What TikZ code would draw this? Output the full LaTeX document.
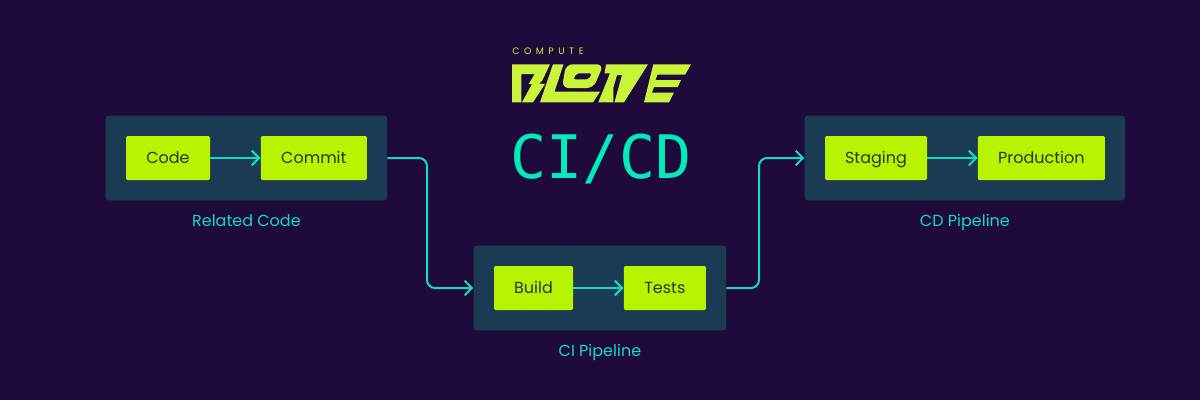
\documentclass[tikz,border=0pt]{standalone}
\usepackage{fontspec}
\setmainfont{Poppins}
\setmonofont{DejaVu Sans Mono}
\usetikzlibrary{chains,positioning,arrows.meta,fit}
\pgfdeclarelayer{back}
\pgfsetlayers{back,main}
\definecolor{nightbg}{HTML}{1F0A3C}
\definecolor{panelfill}{HTML}{1B3B55}
\definecolor{limefill}{HTML}{B8F400}
\definecolor{logolime}{HTML}{C8F53A}
\definecolor{tealline}{HTML}{14DCC0}
\definecolor{tealtext}{HTML}{00EBBE}
\definecolor{darktext}{HTML}{1F3A26}

\begin{document}
\begin{tikzpicture}
  [ x=0.75pt, y=-0.75pt,
    node distance=50.3*0.75pt,
    every join/.style={dou}]
  \tikzset{
    base/.style={
      on chain,
      inner sep=0pt,
      minimum height=44*0.75pt,
    },
    stage/.style={
      base,
      rectangle, rounded corners=1pt,
      fill=limefill,
      text=darktext,
      text height=10pt, text depth=1.5pt,
      font=\fontsize{12pt}{14pt}\selectfont,
    },
    panel/.style={
      rectangle, rounded corners=2pt,
      fill=panelfill,
      inner xsep=20*0.75pt, inner ysep=20*0.75pt,
    },
    caption/.style={
      anchor=north,
      text=tealline,
      font=\fontsize{12pt}{14pt}\selectfont,
    },
    dou/.style={-{Straight Barb[length=5.5pt,width=11pt]}, draw=tealline, line width=1.5pt},
    link/.style={dou, rounded corners=6pt},
    logo/.style={fill=logolime, even odd rule},
  }

  \begin{pgfonlayer}{back}
    \fill[nightbg] (0,0) rectangle (1200,400);
  \end{pgfonlayer}
  \useasboundingbox (0,0) rectangle (1200,400);

  \begin{scope}[start chain=going right]
    \node[stage, minimum width=84*0.75pt, at={(168,158)}] (code) {Code};
    \node[stage, minimum width=106*0.75pt, join] (commit) {Commit};
  \end{scope}

  \begin{scope}[start chain=going right]
    \node[stage, minimum width=79*0.75pt, at={(533.5,288)}] (build) {Build};
    \node[stage, minimum width=82*0.75pt, join] (tests) {Tests};
  \end{scope}

  \begin{scope}[start chain=going right]
    \node[stage, minimum width=102*0.75pt, at={(876,158)}] (staging) {Staging};
    \node[stage, minimum width=127*0.75pt, join] (production) {Production};
  \end{scope}

  % panels go behind the stages
  \begin{pgfonlayer}{back}
    \node[panel, fit=(code)(commit)] (related) {};
    \node[panel, fit=(build)(tests)] (ci) {};
    \node[panel, fit=(staging)(production)] (cd) {};
  \end{pgfonlayer}

  \node[caption, below=9*0.75pt of related] (relatedlabel) {Related Code};
  \node[caption, below=9*0.75pt of ci] (cilabel) {CI Pipeline};
  \node[caption, below=9*0.75pt of cd] (cdlabel) {CD Pipeline};

  \coordinate (midleft) at (427,220);
  \coordinate (midright) at (759,220);
  \draw[link] (related.east) -| (midleft) |- (ci.west);
  \draw[link] (ci.east) -| (midright) |- (cd.west);

  \node[text=tealtext, font=\fontsize{45pt}{50pt}\ttfamily] (title) at (601,159) {CI/CD};
  \node[text=logolime, inner sep=0pt, font=\fontsize{7pt}{8pt}\selectfont, anchor=west] (compute) at (512,51)
    {C\hspace{3.4pt}O\hspace{3.4pt}M\hspace{3.4pt}P\hspace{3.4pt}U\hspace{3.4pt}T\hspace{3.4pt}E};

  % logo letters
  \fill[logo] (512,64.3) -- (550,64.3) -- (542,81) -- (539,83.5) -- (545,84) -- (533,102.3) -- (512,102.3) -- cycle
    (521.3,74) -- (534.7,74) -- (528.7,84) -- (532,84) -- (522,102.3) -- (521.3,102.3) -- cycle;
  \fill[logo] (553,64.3) -- (563.5,64.3) -- (554.5,91.7) -- (600,91.7) -- (593,102.3) -- (540,102.3) -- cycle;
  \fill[logo, rounded corners=5pt] (566,64.3) -- (603.5,64.3) -- (593.5,88) -- (562,88) -- cycle
    [rounded corners=1.5pt] (576.7,73.3) -- (591.7,73.3) -- (589,79.3) -- (573.3,79.3) -- cycle;
  \fill[logo] (606,64.3) -- (648,64.3) -- (624,102.3) -- (598.3,102.3) -- (610,73.3) -- (604.5,73.3) -- cycle
    (613.3,102.3) -- (613.3,88) -- (617,75) -- (622,75) -- (614.5,102.3) -- cycle;
  \fill[logo] (653.3,64.3) -- (691,64.3) -- (685.3,74.5) -- (657.5,74.5) -- (655.5,80) -- (681,80) -- (677.7,87)
    -- (654,87) -- (652,92.5) -- (674,92.5) -- (669,102.3) -- (644,102.3) -- cycle;
\end{tikzpicture}
\end{document}
